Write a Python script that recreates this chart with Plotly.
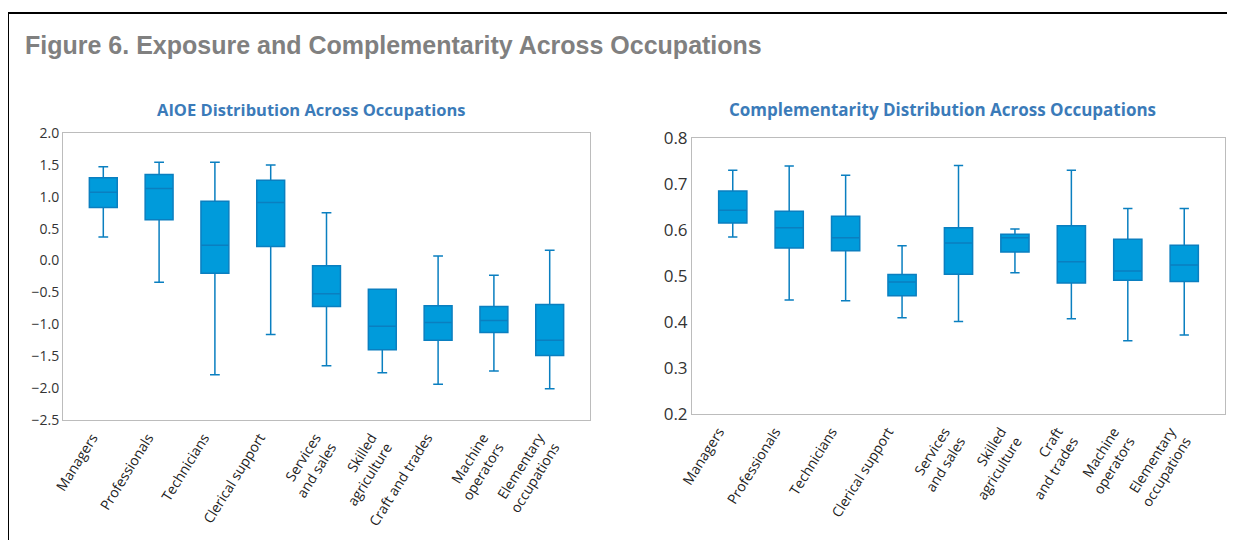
import plotly.graph_objects as go

# occupations (same order in both panels)
occupations = ["Managers", "Professionals", "Technicians", "Clerical support",
               "Services and sales", "Skilled agriculture", "Craft and trades",
               "Machine operators", "Elementary occupations"]
labels_left = ["Managers", "Professionals", "Technicians", "Clerical support",
               "Services<br>and sales", "Skilled<br>agriculture", "Craft and trades",
               "Machine<br>operators", "Elementary<br>occupations"]
labels_right = ["Managers", "Professionals", "Technicians", "Clerical support",
                "Services<br>and sales", "Skilled<br>agriculture", "Craft<br>and trades",
                "Machine<br>operators", "Elementary<br>occupations"]

# AIOE distribution
aioe_low = [0.37, -0.34, -1.79, -1.16, -1.65, -1.76, -1.94, -1.73, -2.01]
aioe_q1 = [0.83, 0.64, -0.20, 0.22, -0.72, -1.40, -1.25, -1.13, -1.49]
aioe_med = [1.07, 1.13, 0.24, 0.91, -0.52, -1.03, -0.97, -0.94, -1.25]
aioe_q3 = [1.30, 1.35, 0.93, 1.26, -0.08, -0.45, -0.71, -0.72, -0.69]
aioe_high = [1.47, 1.54, 1.54, 1.50, 0.75, -0.45, 0.07, -0.23, 0.16]

# Complementarity distribution
comp_low = [0.585, 0.448, 0.446, 0.409, 0.401, 0.507, 0.407, 0.359, 0.372]
comp_q1 = [0.615, 0.561, 0.555, 0.457, 0.504, 0.552, 0.485, 0.491, 0.488]
comp_med = [0.643, 0.605, 0.583, 0.487, 0.572, 0.583, 0.531, 0.511, 0.524]
comp_q3 = [0.685, 0.641, 0.630, 0.503, 0.605, 0.591, 0.609, 0.580, 0.567]
comp_high = [0.730, 0.739, 0.719, 0.566, 0.740, 0.602, 0.730, 0.647, 0.647]

# page body has an 8px margin, so the figure is 16px smaller than the window
PAD = 8
W, H = 1235 - 2 * PAD, 548 - 2 * PAD
FILL = "#009bdb"
EDGE = "#0a7fc0"
TICK_FONT = "Open Sans, Noto Sans, sans-serif"


def px(x):
    # window pixel -> paper fraction
    return (x - PAD) / W


def py(y):
    return 1 - (y - PAD) / H


fig = go.Figure()

fig.add_trace(go.Box(
    x=occupations, q1=aioe_q1, median=aioe_med, q3=aioe_q3,
    lowerfence=aioe_low, upperfence=aioe_high,
    fillcolor=FILL, line=dict(color=EDGE, width=1.5),
    width=0.5, whiskerwidth=0.35, boxpoints=False,
    xaxis="x", yaxis="y", showlegend=False,
))
fig.add_trace(go.Box(
    x=occupations, q1=comp_q1, median=comp_med, q3=comp_q3,
    lowerfence=comp_low, upperfence=comp_high,
    fillcolor=FILL, line=dict(color=EDGE, width=1.5),
    width=0.5, whiskerwidth=0.33, boxpoints=False,
    xaxis="x2", yaxis="y2", showlegend=False,
))

frame = dict(showline=True, mirror=True, linecolor="#bcbcbc", linewidth=1,
             showgrid=False, zeroline=False, ticks="", automargin=False)

fig.update_layout(
    width=W, height=H,
    margin=dict(l=0, r=0, t=0, b=0),
    paper_bgcolor="white", plot_bgcolor="white",
    xaxis=dict(domain=[px(63), px(590)], anchor="y",
               tickmode="array", tickvals=occupations, ticktext=labels_left,
               tickangle=-58, ticklabelshift=-11, ticklabelstandoff=3,
               tickfont=dict(family=TICK_FONT, size=14, color="#222"),
               **frame),
    yaxis=dict(domain=[py(420), py(133)], anchor="x", range=[-2.5, 2.0], dtick=0.5,
               tickformat=".1f", tickfont=dict(family=TICK_FONT, size=14, color="#333"),
               **frame),
    xaxis2=dict(domain=[px(692), px(1225)], anchor="y2",
                tickmode="array", tickvals=occupations, ticktext=labels_right,
                tickangle=-58, ticklabelshift=-14, ticklabelstandoff=3,
                tickfont=dict(family=TICK_FONT, size=14, color="#222"),
                **frame),
    yaxis2=dict(domain=[py(414), py(138)], anchor="x2", range=[0.2, 0.8], dtick=0.1,
                tickformat=".1f", tickfont=dict(family=TICK_FONT, size=17, color="#333"),
                **frame),
)

# outer black frame
fig.add_shape(type="rect", xref="paper", yref="paper",
              x0=px(8), x1=px(1228), y0=-0.05, y1=py(13),
              line=dict(color="black", width=2), layer="below")

fig.add_annotation(text="<b>Figure 6. Exposure and Complementarity Across Occupations</b>",
                   xref="paper", yref="paper", x=px(23), y=py(45),
                   xanchor="left", yanchor="middle", showarrow=False,
                   font=dict(family="Liberation Sans, Arial, sans-serif", size=25, color="#808080"))
fig.add_annotation(text="<b>AIOE Distribution Across Occupations</b>",
                   xref="paper", yref="paper", x=px(311), y=py(109),
                   xanchor="center", yanchor="middle", showarrow=False,
                   font=dict(family=TICK_FONT, size=16.5, color="#3b7bb9"))
fig.add_annotation(text="<b>Complementarity Distribution Across Occupations</b>",
                   xref="paper", yref="paper", x=px(942), y=py(110),
                   xanchor="center", yanchor="middle", showarrow=False,
                   font=dict(family=TICK_FONT, size=17, color="#3b7bb9"))

fig.write_html("out.html")
